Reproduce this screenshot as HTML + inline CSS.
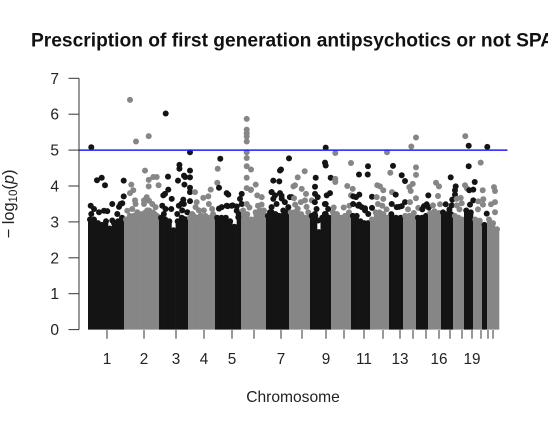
<!DOCTYPE html>
<html>
<head>
<meta charset="utf-8">
<title>Prescription of first generation antipsychotics or not SPA</title>
<style>
html,body{margin:0;padding:0;background:#fff;width:548px;height:427px;overflow:hidden}
svg{display:block;font-family:"Liberation Sans",Arial,sans-serif}
</style>
</head>
<body>
<svg id="chart" width="548" height="427" viewBox="0 0 548 427" xmlns="http://www.w3.org/2000/svg">
<text x="31" y="46.5" font-size="19.2" font-weight="bold" fill="#111">Prescription of first generation antipsychotics or not SPA</text>
<text x="293" y="402" font-size="15.6" text-anchor="middle" fill="#222">Chromosome</text>
<text transform="translate(14,204) rotate(-90)" font-size="16.4" text-anchor="middle" fill="#222">− log<tspan font-size="11.5" dy="3">10</tspan><tspan dy="-3">(</tspan><tspan font-style="italic">p</tspan>)</text>
<g id="bodies"></g>
<g id="dots"></g>
<g id="axes"></g>
</svg>
<script>
const chromosomes = ["1","2","3","4","5","6","7","8","9","10","11","12","13","14","15","16","17","18","19","20","21","22"];
const chrLengths = [252,245,203,189,182,175,161,147,147,140,133,133,98,91,84,91,84,77,63,63,35,84];
const tickPositions = [133,392,616,812,1008,1162,1351,1498,1666,1792,1932,2065,2184,2275,2366,2457,2534,2618,2688,2751,2800,2835];
const tickLabels = ["1","2","3","4","5","","7","","9","","11","","13","","","16","","","19","","",""];
const yTicks = [0,1,2,3,4,5,6,7];
const significance = 5;

const ridge1 = [3.15,3.15,3.05,3.00,3.10,2.90,3.05,3.10,3.20];
const ridge2 = [3.15,3.25,3.25,3.20,3.30,3.35,3.40,3.35,3.25];
const ridge3 = [3.20,3.15,3.10,2.85,3.10,3.20,3.15];
const ridge4 = [3.20,3.25,3.20,3.20,3.25,3.20,3.30];
const ridge5 = [3.20,3.20,3.20,3.10,2.95,3.30];
const ridge6 = [3.40,3.30,3.15,3.35,3.40,3.40];
const ridge7 = [3.25,3.35,3.30,3.25,3.40,3.35];
const ridge8 = [3.35,3.35,3.45,3.30,3.20,3.35];
const ridge9 = [3.25,3.25,2.80,3.20,3.30,3.20];
const ridge10 = [3.35,3.30,3.20,3.25,3.35];
const ridge11 = [3.25,3.25,3.10,3.05,3.05];
const ridge12 = [3.15,3.35,3.35,3.30,3.20];
const ridge13 = [3.30,3.20,3.20];
const ridge14 = [3.25,3.25,3.33];
const ridge15 = [3.20,3.20,3.25];
const ridge16 = [3.33,3.38,3.33];
const ridge17 = [3.35,3.30,3.30];
const ridge18 = [3.25,3.20,3.15];
const ridge19 = [3.40,3.35];
const ridge20 = [3.15,3.12];
const ridge21 = [3.00];
const ridge22 = [3.15,3.05,2.88];
const ridges = [ridge1,ridge2,ridge3,ridge4,ridge5,ridge6,ridge7,ridge8,ridge9,ridge10,ridge11,ridge12,ridge13,ridge14,ridge15,ridge16,ridge17,ridge18,ridge19,ridge20,ridge21,ridge22];

const snps1 = [[23,5.08],[63,4.16],[96,4.23],[119,4.02],[250,4.15],[250,3.71],[170,3.50],[240,3.52],[217,3.42],[19,3.45],[42,3.36],[23,3.22],[77,3.27],[112,3.31],[135,3.30],[170,3.04],[205,3.22],[228,3.50]];
const snps2 = [[294,6.40],[336,5.24],[425,5.39],[399,4.43],[425,4.17],[425,3.99],[303,4.04],[317,3.88],[294,3.80],[457,4.25],[481,4.25],[494,4.02],[411,3.69],[392,3.60],[329,3.60],[275,3.31],[310,3.36],[345,3.27],[392,3.50],[427,3.59],[450,3.50],[473,3.41],[333,3.50],[415,3.32],[466,3.22]];
const snps3 = [[544,6.02],[560,4.26],[714,4.94],[640,4.59],[640,4.48],[630,4.15],[672,4.29],[680,4.25],[675,4.04],[714,4.43],[714,4.24],[714,3.95],[714,3.83],[714,3.58],[562,3.90],[539,3.78],[527,3.74],[586,3.64],[667,3.62],[655,3.51],[520,3.45],[543,3.36],[531,3.22],[583,3.36],[636,3.45],[671,3.50],[659,3.32],[695,3.27],[625,3.22],[671,3.08]];
const snps4 = [[749,3.83],[761,3.55],[807,3.67],[842,3.71],[859,3.90],[908,4.48],[905,4.09],[753,3.41],[776,3.32],[811,3.32],[846,3.50],[869,3.36],[788,3.18],[729,3.22]];
const snps5 = [[926,4.76],[917,3.95],[971,3.80],[982,3.76],[917,3.37],[978,3.44],[1013,3.46],[1041,3.43],[1076,3.78],[1064,3.64],[936,3.41],[971,3.45],[1006,3.45],[1041,3.31],[1076,3.50],[1052,3.13]];
const snps6 = [[1111,5.87],[1111,5.57],[1111,5.47],[1111,5.38],[1111,5.24],[1111,4.94],[1111,4.78],[1111,4.55],[1111,4.23],[1111,3.94],[1141,4.46],[1141,3.90],[1174,4.04],[1185,3.74],[1216,3.69],[1139,3.89],[1111,3.50],[1130,3.40],[1190,3.45],[1215,3.48]];
const snps7 = [[1344,4.43],[1297,4.15],[1339,4.13],[1286,3.83],[1309,3.74],[1351,4.46],[1407,4.77],[1344,3.80],[1356,3.65],[1426,3.69],[1285,3.83],[1297,3.64],[1285,3.41],[1320,3.50],[1355,3.73],[1378,3.55],[1413,3.69],[1402,3.41],[1274,3.27]];
const snps8 = [[1517,4.41],[1468,4.24],[1449,4.02],[1438,3.99],[1496,3.92],[1526,3.78],[1442,3.66],[1519,3.60],[1566,3.60],[1450,3.48],[1490,3.55],[1530,3.42]];
const snps9 = [[1664,5.07],[1659,4.65],[1664,4.57],[1594,4.23],[1699,4.23],[1589,3.98],[1694,3.80],[1671,3.74],[1589,3.78],[1608,3.69],[1664,3.50],[1588,3.55],[1600,3.36],[1588,3.22],[1611,3.04],[1658,3.50],[1681,3.36],[1658,3.22],[1681,3.04]];
const snps10 = [[1731,4.92],[1841,4.64],[1731,4.20],[1731,4.11],[1815,4.00],[1853,3.92],[1841,3.74],[1720,3.40],[1790,3.40],[1830,3.45]];
const snps11 = [[1897,4.32],[1960,4.55],[1958,4.32],[1899,3.76],[1876,3.69],[1857,3.71],[1988,3.70],[1988,3.39],[1939,3.38],[1897,3.48],[1856,3.50],[1891,3.45],[1916,3.41],[1939,3.32],[1962,3.22]];
const snps12 = [[2093,4.94],[2116,4.37],[2025,4.02],[2044,3.99],[2067,3.88],[2128,3.83],[2021,3.69],[2067,3.64],[2030,3.50],[2060,3.45],[2090,3.35]];
const snps13 = [[2135,4.56],[2196,4.30],[2219,4.14],[2154,3.76],[2126,3.50],[2161,3.41],[2196,3.44],[2219,3.55],[2177,3.42]];
const snps14 = [[2296,5.35],[2263,5.10],[2296,4.52],[2296,4.31],[2273,4.06],[2249,3.97],[2259,3.86],[2296,3.66],[2254,3.55],[2312,3.39],[2240,3.35]];
const snps15 = [[2382,3.74],[2371,3.49],[2352,3.44],[2340,3.35],[2385,3.40]];
const snps16 = [[2436,4.09],[2457,3.99],[2450,3.72],[2464,3.49],[2415,3.46]];
const snps17 = [[2539,4.24],[2574,3.99],[2569,3.88],[2569,3.76],[2550,3.62],[2504,3.49],[2546,3.46],[2530,3.35]];
const snps18 = [[2641,5.39],[2639,4.02],[2653,3.93],[2609,3.67],[2581,3.64],[2616,3.52],[2581,3.46],[2600,3.35]];
const snps19 = [[2665,5.12],[2665,4.55],[2707,4.11],[2669,3.88],[2697,3.90],[2697,3.60],[2674,3.48]];
const snps20 = [[2749,4.65],[2763,3.88],[2767,3.63],[2732,3.57],[2765,3.48],[2730,3.35]];
const snps21 = [[2795,5.09],[2791,3.23]];
const snps22 = [[2842,3.97],[2849,3.86],[2849,3.55],[2821,3.49],[2849,3.27]];
const snps = [snps1,snps2,snps3,snps4,snps5,snps6,snps7,snps8,snps9,snps10,snps11,snps12,snps13,snps14,snps15,snps16,snps17,snps18,snps19,snps20,snps21,snps22];

const NS = "http://www.w3.org/2000/svg";
const xScale = g => 88 + g / 7;
const yScale = v => 329.6 - v * 35.9;
const bandColors = ["#141414", "#868686"];
const dotRadius = 3;

function make(parent, tag, attrs) {
  const el = document.createElementNS(NS, tag);
  for (const k in attrs) el.setAttribute(k, attrs[k]);
  parent.appendChild(el);
  return el;
}

const bodies = document.getElementById("bodies");
const dots = document.getElementById("dots");
const axes = document.getElementById("axes");

let start = 0;
chromosomes.forEach((name, c) => {
  const fill = bandColors[c % 2];
  const step = chrLengths[c] / ridges[c].length;
  ridges[c].forEach((v, i) => {
    const x0 = xScale(start + i * step);
    const x1 = xScale(start + (i + 1) * step);
    const cy = yScale(v) + dotRadius;
    const col = make(bodies, "rect", {x: x0, y: cy, width: x1 - x0 + 0.3, height: yScale(0) - cy, fill: fill});
    
    
    const cap = make(bodies, "circle", {cx: (x0 + x1) / 2, cy: cy, r: dotRadius, fill: fill});
    
    
  });
  start += chrLengths[c];
});

chromosomes.forEach((name, c) => {
  const fill = bandColors[c % 2];
  snps[c].forEach(p => {
    const dot = make(dots, "circle", {cx: xScale(p[0]), cy: yScale(p[1]), r: dotRadius, fill: fill});
    
    
  });
});

const sigLine = make(axes, "line", {x1: 79, x2: 507.5, y1: yScale(significance), y2: yScale(significance), stroke: "#1f1fff", "stroke-width": 1.5});



const yAxis = make(axes, "line", {x1: 79, x2: 79, y1: yScale(yTicks[yTicks.length - 1]), y2: yScale(yTicks[0]), stroke: "#333", "stroke-width": 1});



yTicks.forEach(t => {
  const tick = make(axes, "line", {x1: 68.5, x2: 79, y1: yScale(t), y2: yScale(t), stroke: "#333", "stroke-width": 1});
  
  
  const label = make(axes, "text", {x: 59, y: yScale(t) + 5.5, "font-size": 15.5, "text-anchor": "end", fill: "#222"});
  label.textContent = t;
  
  
});

tickPositions.forEach((g, i) => {
  const tick = make(axes, "line", {x1: xScale(g), x2: xScale(g), y1: 330, y2: 338.7, stroke: "#333", "stroke-width": 1});
  
  
  if (tickLabels[i]) {
    const label = make(axes, "text", {x: xScale(g), y: 364, "font-size": 15.3, "text-anchor": "middle", fill: "#222"});
    label.textContent = tickLabels[i];
    
    
  }
});
</script>
</body>
</html>
